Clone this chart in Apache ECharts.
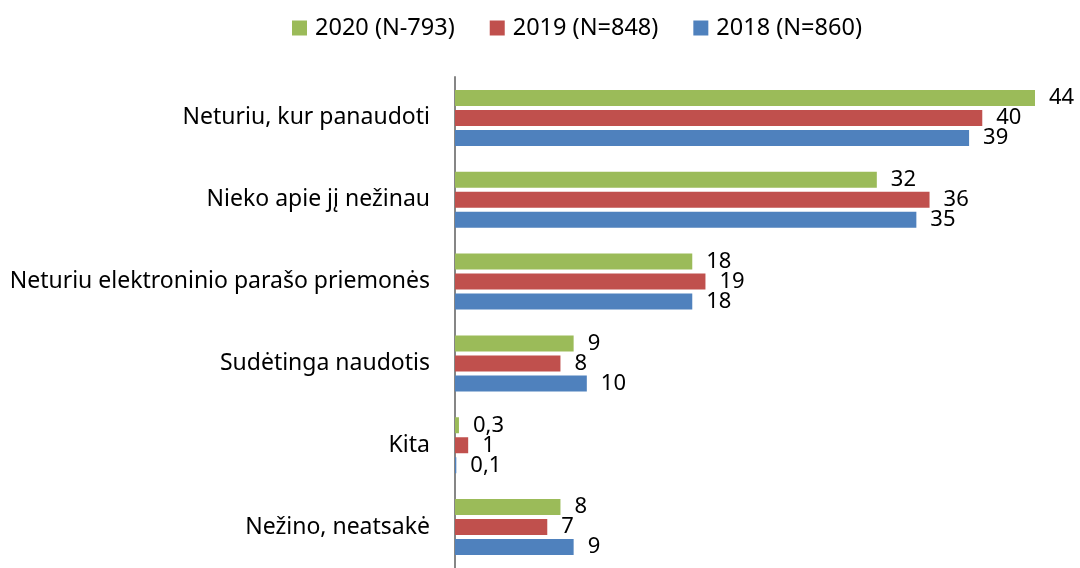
<!DOCTYPE html>
<html>
<head>
<meta charset="utf-8">
<script src="https://cdn.jsdelivr.net/npm/echarts@6/dist/echarts.min.js"></script>
<style>
    html, body { margin: 0; padding: 0; background: #fff; }
    #chart { width: 1080px; height: 568px; }
</style>
</head>
<body>
<div id="chart"></div>
<script>
// kategorijos (iš viršaus į apačią)
const categories = [
    'Neturiu, kur panaudoti',
    'Nieko apie jį nežinau',
    'Neturiu elektroninio parašo priemonės',
    'Sudėtinga naudotis',
    'Kita',
    'Nežino, neatsakė'
];

// serijų pavadinimai
const seriesNames = ['2020 (N-793)', '2019 (N=848)', '2018 (N=860)'];

// reikšmės
const values2020 = [44, 32, 18, 9, 0.3, 8];
const values2019 = [40, 36, 19, 8, 1, 7];
const values2018 = [39, 35, 18, 10, 0.1, 9];

const colors = ['#9BBB59', '#C0504D', '#4F81BD'];
const FONT = 'Noto Sans';

// reikšmės formatavimas su kableliu
function fmt(p) {
    return String(p.value).replace('.', ',');
}

function makeSeries(name, data, color) {
    return {
        name: name,
        type: 'bar',
        data: data,
        barWidth: 16,
        barGap: '25%',
        itemStyle: { color: color },
        label: {
            show: true,
            position: 'right',
            distance: 14,
            color: '#000',
            fontFamily: FONT,
            fontSize: 22,
            formatter: fmt
        }
    };
}

const chart = echarts.init(document.getElementById('chart'));
chart.setOption({
    animation: false,
    color: colors,
    legend: {
        top: 11,
        left: 287,
        itemWidth: 15,
        itemHeight: 15,
        itemGap: 35,
        icon: 'rect',
        textStyle: { fontFamily: FONT, fontSize: 23.5, color: '#000', padding: [0, 0, 0, 3] },
        data: seriesNames
    },
    grid: {
        left: 455,
        right: 45,
        top: 77,
        height: 494
    },
    xAxis: {
        type: 'value',
        min: 0,
        max: 44,
        show: false
    },
    yAxis: {
        type: 'category',
        inverse: true,
        data: categories,
        axisLine: { show: true, lineStyle: { color: '#868686', width: 2 } },
        axisTick: { show: false },
        axisLabel: {
            margin: 25,
            color: '#000',
            fontFamily: FONT,
            fontSize: 23
        }
    },
    series: [
        makeSeries(seriesNames[0], values2020, colors[0]),
        makeSeries(seriesNames[1], values2019, colors[1]),
        makeSeries(seriesNames[2], values2018, colors[2])
    ]
});
</script>
</body>
</html>
